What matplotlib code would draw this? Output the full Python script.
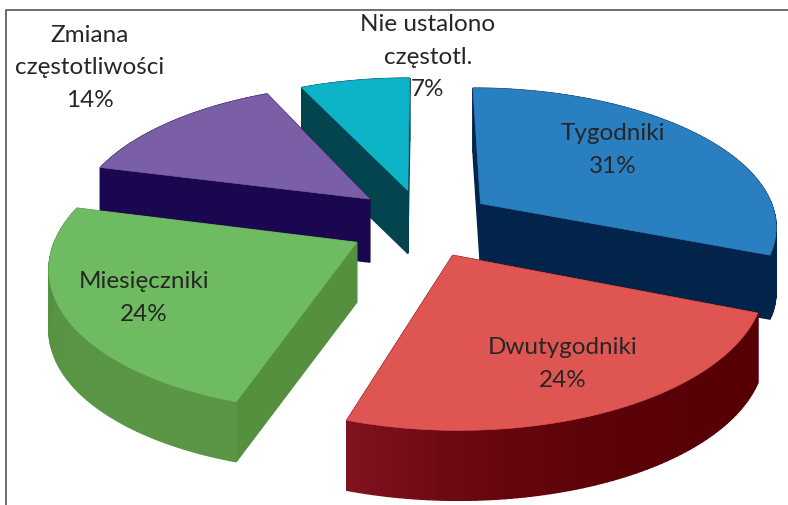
import numpy as np
import matplotlib
matplotlib.use('Agg')
import matplotlib.pyplot as plt

# Data
labels = ['Tygodniki', 'Dwutygodniki', 'Miesięczniki', 'Zmiana\nczęstotliwości', 'Nie ustalono\nczęstotl.']
values = [31, 24, 24, 14, 7]

# Colours: top face, cut wall, outer wall (back end, front end)
top_colors = ['#2A7FC1', '#DF5552', '#6FBB62', '#7A5FA6', '#0DB3C6']
cut_colors = ['#03244A', '#5A0208', '#55903F', '#1B0650', '#03444F']
arc_colors = [('#03244A', '#03244A'), ('#560005', '#82121F'), ('#5A9645', '#4C8A3C'), ('#1B0650', '#1B0650'), ('#03444F', '#03444F')]
label_pos = [(613, 150), (563, 364), (144, 298), (90, 68), (428, 57)]

# Camera
cx, cy = 421, 222
sx, sy = 297, 138
persp = 0.151
explode = 0.243

# Per slice fine tuning, in pixels
thickness = [64, 70, 60, 63, 63]
nudge = [(1, 0), (0, 2), (0, 4), (3, -2), (2, 0)]


def project(x, y, off=(0, 0), z=0.0):
    w = 1 / (1 + persp * np.asarray(y))
    return cx + off[0] + sx * np.asarray(x) * w, cy + off[1] - sy * np.asarray(y) * w + z


def hex_mix(a, b, t):
    a = np.array(matplotlib.colors.to_rgb(a))
    b = np.array(matplotlib.colors.to_rgb(b))
    return tuple(a + (b - a) * t)


def wall(ax, x0, y0, x1, y1, off, h, color, zorder):
    px0, py0 = project(x0, y0, off)
    px1, py1 = project(x1, y1, off)
    qx0, qy0 = project(x0, y0, off, h)
    qx1, qy1 = project(x1, y1, off, h)
    ax.fill([px0, px1, qx1, qx0], [py0, py1, qy1, qy0], color=color, lw=1, zorder=zorder)


fig = plt.figure(figsize=(7.88, 5.05), dpi=100)
ax = fig.add_axes([0, 0, 1, 1])
ax.set_xlim(0, 788)
ax.set_ylim(505, 0)
ax.axis('off')

# Slices run clockwise from 12 o'clock
edges = 90 - np.cumsum([0] + values) * 3.6
order = [4, 3, 0, 2, 1]  # back to front

for n, i in enumerate(order):
    a0, a1 = np.radians(edges[i]), np.radians(edges[i + 1])
    mid = (a0 + a1) / 2
    ox, oy = explode * np.cos(mid), explode * np.sin(mid)
    t = np.linspace(a0, a1, 80)
    ex, ey = ox + np.cos(t), oy + np.sin(t)
    base = n * 10
    off, h = nudge[i], thickness[i]

    # cut walls first, then the outer wall, then the top
    wall(ax, ox, oy, ex[0], ey[0], off, h, cut_colors[i], base)
    wall(ax, ox, oy, ex[-1], ey[-1], off, h, cut_colors[i], base + 1)
    for k in range(len(t) - 1):
        c = hex_mix(arc_colors[i][0], arc_colors[i][1], (k / (len(t) - 2)) ** 3)
        wall(ax, ex[k], ey[k], ex[k + 1], ey[k + 1], off, h, c, base + 2)
    px, py = project(np.r_[ox, ex], np.r_[oy, ey], off)
    ax.fill(px, py, color=top_colors[i], lw=0.5, zorder=base + 3)

# Labels
for i, lab in enumerate(labels):
    ax.text(label_pos[i][0], label_pos[i][1], f'{lab}\n{values[i]}%', ha='center', va='center',
            fontsize=17.5, family='Lato', color='#262626', linespacing=1.65, zorder=100)

# Frame
ax.plot([6, 6, 788], [505, 10, 10], color='#555555', lw=1.2, zorder=101)

plt.savefig('out.png', dpi=100)
